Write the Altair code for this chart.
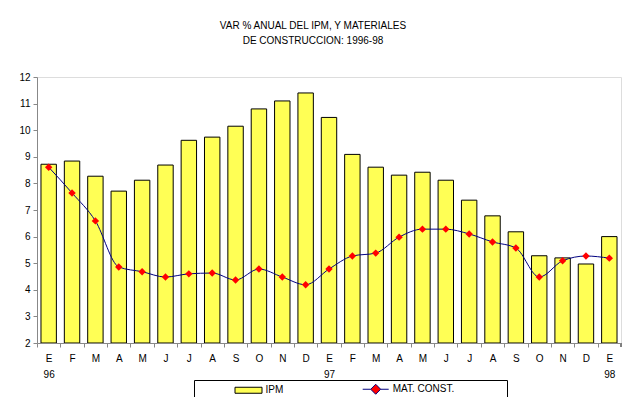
import altair as alt
import pandas as pd

# ---- data ----
x_labels = ["E", "F", "M", "A", "M", "J", "J", "A", "S", "O", "N", "D",
            "E", "F", "M", "A", "M", "J", "J", "A", "S", "O", "N", "D", "E"]
year_labels = ["96", "", "", "", "", "", "", "", "", "", "", "",
               "97", "", "", "", "", "", "", "", "", "", "", "", "98"]
ipm = [8.72, 8.84, 8.27, 7.71, 8.12, 8.69, 9.62, 9.74, 10.15, 10.80, 11.10, 11.40,
       10.48, 9.09, 8.61, 8.31, 8.42, 8.12, 7.37, 6.78, 6.18, 5.28, 5.20, 4.97, 6.0]
mat = [8.61, 7.64, 6.59, 4.86, 4.68, 4.48, 4.60, 4.63, 4.37, 4.78, 4.48, 4.19,
       4.78, 5.27, 5.38, 5.98, 6.28, 6.28, 6.10, 5.80, 5.57, 4.48, 5.09, 5.27, 5.19]
series_names = ["IPM", "MAT. CONST."]
title_lines = ["VAR % ANUAL DEL IPM, Y MATERIALES", "DE CONSTRUCCION: 1996-98"]

FONT = "Liberation Sans"
YELLOW = "#FFFF55"
NAVY = "#000080"
RED = "#FF0000"

W, H = 584, 266
n = len(x_labels)
STEP = W / n

keys = [f"{i:02d}|{m}" + (f"|{y}" if y else "") for i, (m, y) in enumerate(zip(x_labels, year_labels))]
df_ipm = pd.DataFrame({"key": keys, "value": ipm, "series": series_names[0]})
df_mat = pd.DataFrame({"key": keys, "value": mat, "series": series_names[1]})
df_all = pd.concat([df_ipm, df_mat], ignore_index=True)
df_end = pd.DataFrame({"key": keys[-1:]})

x_enc = alt.X(
    "key:O",
    scale=alt.Scale(paddingInner=0.34, paddingOuter=0.17),
    axis=alt.Axis(
        title=None, labelExpr="split(slice(datum.label, 3), '|')", labelAngle=0,
        tickSize=4, labelPadding=6, labelLineHeight=16, labelBaseline="top",
        tickOffset=-STEP / 2, labelOffset=STEP / 2, grid=False, zindex=1,
        labelOverlap=False,
    ),
)
y_enc = alt.Y(
    "value:Q",
    scale=alt.Scale(domain=[2, 12], nice=False, zero=False),
    axis=alt.Axis(title=None, values=list(range(2, 13)), tickSize=4, labelPadding=3,
                  grid=False, zindex=1),
)

pad_right = "\u2800" * 7
legend = alt.Legend(
    title="\u00a0", titleOrient="left", titlePadding=45.5, titleFontSize=10,
    orient="none", legendX=157, legendY=303, direction="horizontal",
    strokeColor="black", padding=3.5, columnPadding=76.2, labelOffset=11.5,
    symbolSize=100, symbolStrokeWidth=1, symbolOpacity=1,
    labelFont=FONT, labelFontSize=10, labelColor="black",
    labelExpr=f"datum.label == 'MAT. CONST.' ? datum.label + '{pad_right}' : datum.label",
)

bars = alt.Chart(df_ipm).mark_bar(fill=YELLOW, stroke="black", strokeWidth=1).encode(
    x=x_enc, y=y_enc, y2=alt.Y2(datum=2),
)
line = alt.Chart(df_mat).mark_line(color=NAVY, strokeWidth=1, interpolate="monotone").encode(
    x=x_enc, y=y_enc,
)
points = alt.Chart(df_mat).mark_point(shape="diamond", filled=True, size=55, color=RED, opacity=1).encode(
    x=x_enc, y=y_enc,
)
end_tick = alt.Chart(df_end).mark_rule(color="black", strokeWidth=1, xOffset=STEP / 2).encode(
    x=x_enc, y=alt.value(H), y2=alt.value(H + 4),
)
legend_layer = alt.Chart(df_all).mark_point(filled=True, opacity=0).encode(
    x=x_enc, y=y_enc,
    color=alt.Color("series:N", scale=alt.Scale(domain=series_names, range=[YELLOW, RED]), legend=legend),
    stroke=alt.Stroke("series:N", scale=alt.Scale(domain=series_names, range=["black", NAVY]), legend=legend),
    shape=alt.Shape("series:N", scale=alt.Scale(domain=series_names,
                    range=["M-2.7,-0.6H2.7V0.6H-2.7Z",
                           "M-2.6,0H-1M1,0H2.6M0,-1L1,0L0,1L-1,0Z"]), legend=legend),
)

chart = alt.layer(bars, line, points, end_tick, legend_layer).properties(
    width=W, height=H,
    autosize=alt.AutoSizeParams(type="none"),
    padding={"left": 29, "top": 69, "right": 6, "bottom": 54},
    title=alt.TitleParams(
        text=title_lines, font=FONT, fontSize=10, fontWeight="normal", color="black",
        lineHeight=15, anchor="middle", dx=-16, offset=26,
    ),
).configure_view(stroke=None).configure_axis(
    domainColor="black", tickColor="black", labelColor="black",
    labelFont=FONT, labelFontSize=10, grid=False, domainWidth=1, tickWidth=1,
).configure(background="white")

chart.save("out.html", embed_options={"renderer": "svg", "actions": False})
